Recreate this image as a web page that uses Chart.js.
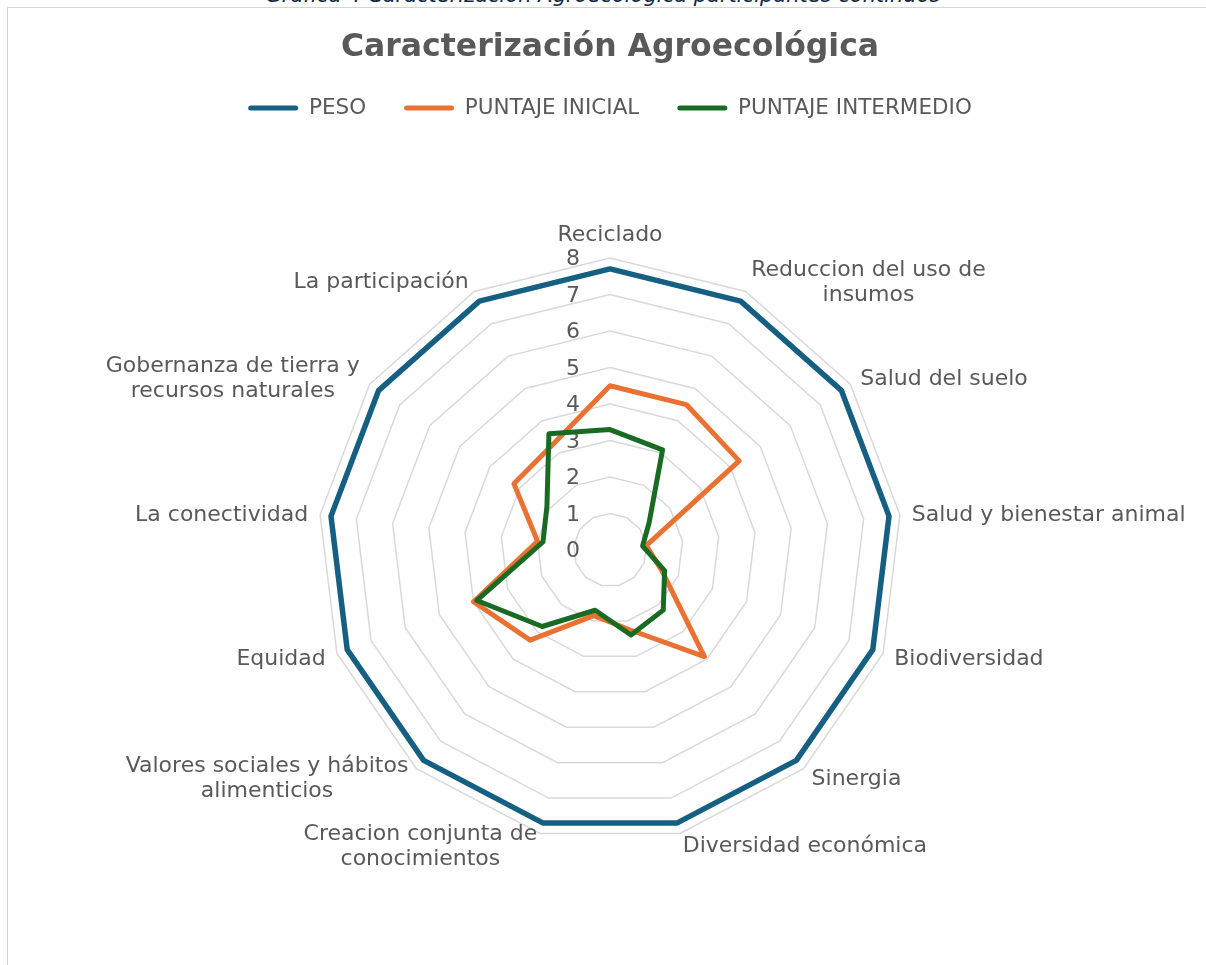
<!DOCTYPE html>
<html>
<head>
<meta charset="utf-8">
<title>Caracterización Agroecológica</title>
<script src="https://cdn.jsdelivr.net/npm/chart.js@4.4.1/dist/chart.umd.min.js"></script>
<style>
  body { margin: 0; background: #fff; }
  .wrap { position: relative; width: 1206px; height: 965px; overflow: hidden; }
  .caption { position: absolute; left: 0; right: 0; top: -17px; text-align: center; font: italic 21px "DejaVu Sans"; color: #0e2841; white-space: nowrap; }
  .frame { position: absolute; left: 7px; top: 7px; width: 1300px; height: 1000px; border-left: 1px solid #d4d4d4; border-top: 1px solid #d4d4d4; }
  canvas { position: absolute; left: 0; top: 0; }
</style>
</head>
<body>
<div class="wrap">
  <div class="caption">Gráfica 4 Caracterización Agroecológica participantes continuos</div>
  <div class="frame"></div>
  <canvas id="radar" width="1206" height="965"></canvas>
</div>
<script>
var categories = [
    'Reciclado',
    ['Reduccion del uso de', 'insumos'],
    'Salud del suelo',
    'Salud y bienestar animal',
    'Biodiversidad',
    'Sinergia',
    'Diversidad económica',
    ['Creacion conjunta de', 'conocimientos'],
    ['Valores sociales y hábitos', 'alimenticios'],
    'Equidad',
    'La conectividad',
    ['Gobernanza de tierra y', 'recursos naturales'],
    'La participación'
]
var peso = [7.7, 7.7, 7.7, 7.7, 7.7, 7.7, 7.7, 7.7, 7.7, 7.7, 7.7, 7.7, 7.7]
var puntajeInicial = [4.5, 4.5, 4.3, 1.0, 1.5, 3.9, 2.25, 1.85, 3.3, 4.0, 2.0, 3.2, 3.3]
var puntajeIntermedio = [3.3, 3.1, 1.3, 0.9, 1.6, 2.2, 2.4, 1.7, 2.8, 3.9, 1.85, 2.1, 3.6]
var tickValues = [0, 1, 2, 3, 4, 5, 6, 7, 8]

var fontFamily = '"DejaVu Sans"'
var textColor = '#595959'

// excel puts the numbers left of the axis and the names in blocks round the ring
var radarText = {
    id: 'radarText',
    beforeDatasetsDraw: function (chart) {
        var r = chart.scales.r
        var ctx = chart.ctx
        ctx.save()
        ctx.font = '22px ' + fontFamily
        ctx.fillStyle = textColor
        ctx.textAlign = 'right'
        ctx.textBaseline = 'middle'
        tickValues.forEach(function (v) {
            ctx.fillText(String(v), r.xCenter - 30, r.yCenter - r.getDistanceFromCenterForValue(v) + 1.5)
        })

        var lineH = 25
        ctx.textAlign = 'center'
        chart.data.labels.forEach(function (label, i) {
            var lines = [].concat(label)
            var p = r.getPointPosition(i, r.drawingArea + 12)
            var w = Math.max.apply(null, lines.map(function (l) { return ctx.measureText(l).width }))
            var deg = Math.round(r.getIndexAngle(i) * 180 / Math.PI) % 360
            var cx = p.x
            if (deg > 0 && deg < 180) cx = p.x + w / 2
            else if (deg > 180) cx = p.x - w / 2
            var blockH = lines.length * lineH
            var top = deg === 0 ? p.y - blockH : p.y - blockH / 2
            lines.forEach(function (l, k) {
                ctx.fillText(l, cx, top + lineH * (k + 0.5) + 1.5)
            })
        })
        ctx.restore()
    }
}

var radarCTX = document.getElementById('radar').getContext('2d')

var radarChart = new Chart(radarCTX, {
    type: 'radar',
    data: {
        labels: categories,
        datasets: [{
            label: 'PESO',
            data: peso,
            borderColor: '#156082',
            backgroundColor: '#156082',
            borderWidth: 5.5,
            order: 2
        }, {
            label: 'PUNTAJE INICIAL',
            data: puntajeInicial,
            borderColor: '#E97132',
            backgroundColor: '#E97132',
            borderWidth: 5,
            order: 1
        }, {
            label: 'PUNTAJE INTERMEDIO',
            data: puntajeIntermedio,
            borderColor: '#196B24',
            backgroundColor: '#196B24',
            borderWidth: 5,
            order: 0
        }]
    },
    options: {
        responsive: false,
        animation: false,
        elements: {
            line: { fill: false, tension: 0, borderJoinStyle: 'round' },
            point: { radius: 0, hoverRadius: 0 }
        },
        layout: {
            padding: { left: 14, right: 0, top: 0, bottom: 122.5 }
        },
        plugins: {
            title: {
                display: true,
                text: 'Caracterización Agroecológica',
                color: textColor,
                font: { family: fontFamily, size: 31.5, weight: 'bold', lineHeight: 0.72 },
                padding: { top: 36.6, bottom: 0 }
            },
            legend: {
                position: 'top',
                weight: 1800, // keep it right under the title, above the spacer
                labels: {
                    color: textColor,
                    font: { family: fontFamily, size: 21.5 },
                    boxWidth: 50,
                    boxHeight: 5,
                    padding: 38,
                    sort: function (a, b) { return a.datasetIndex - b.datasetIndex },
                    generateLabels: function (chart) {
                        var items = Chart.defaults.plugins.legend.labels.generateLabels(chart)
                        items.forEach(function (item) {
                            item.lineWidth = 0
                            item.borderRadius = 2.5
                        })
                        return items
                    }
                }
            },
            // empty subtitle just used as a gap between legend and the radar
            subtitle: {
                display: true,
                text: '',
                font: { size: 10 },
                padding: { top: 117.7, bottom: 0 }
            },
            tooltip: { enabled: false }
        },
        scales: {
            r: {
                min: 0,
                max: 8,
                ticks: { stepSize: 1, display: false },
                grid: { color: '#d9d9d9', lineWidth: 1.5 },
                angleLines: { display: false },
                pointLabels: { display: false }
            }
        }
    },
    plugins: [radarText]
})
</script>
</body>
</html>
